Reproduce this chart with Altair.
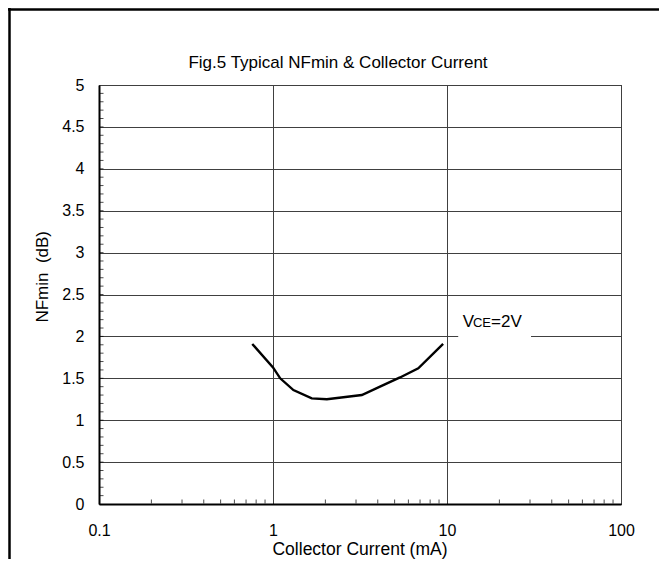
import altair as alt
import pandas as pd

# Curve: collector current (mA) vs NFmin (dB), VCE = 2V
current_ma = [0.76, 1.0, 1.1, 1.31, 1.67, 2.04, 3.24, 4.12, 5.37, 6.84, 9.5]
nfmin_db = [1.91, 1.63, 1.50, 1.36, 1.26, 1.25, 1.30, 1.40, 1.51, 1.62, 1.91]

x_tick_values = [0.1, 1, 10, 100]
y_tick_values = [0, 0.5, 1, 1.5, 2, 2.5, 3, 3.5, 4, 4.5, 5]
x_minor = [0.2, 0.3, 0.4, 0.5, 0.6, 0.7, 0.8, 0.9,
           2, 3, 4, 5, 6, 7, 8, 9,
           20, 30, 40, 50, 60, 70, 80, 90]
y_minor = [0.1, 0.2, 0.3, 0.4, 0.5, 0.6, 0.7, 0.8, 0.9, 1.0,
           1.1, 1.2, 1.3, 1.4, 1.5, 1.6, 1.7, 1.8, 1.9, 2.0,
           2.1, 2.2, 2.3, 2.4, 2.5, 2.6, 2.7, 2.8, 2.9, 3.0,
           3.1, 3.2, 3.3, 3.4, 3.5, 3.6, 3.7, 3.8, 3.9, 4.0,
           4.1, 4.2, 4.3, 4.4, 4.5, 4.6, 4.7, 4.8, 4.9]

# Annotation "VCE=2V"
ann_parts = ["V", "CE", "=2V"]
ann_x = [12.3, 14.1, 17.9]
ann_y = [2.11, 2.11, 2.11]
ann_size = [17, 13, 17]
ann_box_x = [11.6]
ann_box_x2 = [30.4]
ann_box_y = [1.98]
ann_box_y2 = [2.2]

title_text = "Fig.5 Typical NFmin & Collector Current"
x_title = "Collector Current (mA)"
y_title = "NFmin\u00a0 (dB)"

FONT = "Liberation Sans"
W, H = 522, 419

curve_df = pd.DataFrame({"current": current_ma, "nf": nfmin_db})
ann_df = pd.DataFrame({"t": ann_parts, "x": ann_x, "y": ann_y, "s": ann_size})
box_df = pd.DataFrame({"x": ann_box_x, "x2": ann_box_x2, "y": ann_box_y, "y2": ann_box_y2})
xm_df = pd.DataFrame({"x": x_minor})
ym_df = pd.DataFrame({"y": y_minor})

xscale = alt.Scale(type="log", domain=[0.1, 100], nice=False)
yscale = alt.Scale(domain=[0, 5], nice=False, zero=True)

xaxis = alt.Axis(
    values=x_tick_values, format="~g", grid=True, gridColor="#404040", gridWidth=1,
    domainColor="black", domainWidth=2, ticks=True, tickSize=0,
    labelFont=FONT, labelFontSize=16, labelColor="black", labelPadding=18,
    labelBaseline="top", labelFlush=False, labelOverlap=False,
    title=x_title, titleFont=FONT, titleFontSize=17.5, titleFontWeight="normal",
    titleColor="black", titleX=260.5, titleY=50.5, titleAlign="center",
    titleBaseline="alphabetic", titleAngle=0,
)
yaxis = alt.Axis(
    values=y_tick_values, format="~g", grid=True, gridColor="#404040", gridWidth=1,
    domainColor="black", domainWidth=2, ticks=True, tickSize=0,
    labelFont=FONT, labelFontSize=16, labelColor="black", labelPadding=15,
    labelFlush=False, labelOverlap=False,
    title=y_title, titleFont=FONT, titleFontSize=17, titleFontWeight="normal",
    titleColor="black", titleX=-52, titleY=191.3, titleAlign="center",
    titleBaseline="alphabetic", titleAngle=270,
)

line = alt.Chart(curve_df).mark_line(color="black", strokeWidth=2.4).encode(
    x=alt.X("current:Q", scale=xscale, axis=xaxis),
    y=alt.Y("nf:Q", scale=yscale, axis=yaxis),
)

xticks = alt.Chart(xm_df).mark_tick(orient="vertical", color="black", size=4, thickness=1).encode(
    x=alt.X("x:Q", scale=xscale),
    y=alt.value(H - 2.5),
)
yticks = alt.Chart(ym_df).mark_tick(orient="horizontal", color="black", size=4, thickness=1).encode(
    y=alt.Y("y:Q", scale=yscale),
    x=alt.value(2.5),
)

box = alt.Chart(box_df).mark_rect(color="white").encode(
    x=alt.X("x:Q", scale=xscale),
    x2="x2:Q",
    y=alt.Y("y:Q", scale=yscale),
    y2="y2:Q",
)

ann = alt.Chart(ann_df).mark_text(align="left", baseline="alphabetic", font=FONT, color="black").encode(
    x=alt.X("x:Q", scale=xscale),
    y=alt.Y("y:Q", scale=yscale),
    text="t:N",
    size=alt.Size("s:Q", scale=None, legend=None),
)

title = alt.Chart(pd.DataFrame({"t": [title_text]})).mark_text(
    align="center", baseline="alphabetic", font=FONT, fontSize=17, color="black"
).encode(x=alt.value(239), y=alt.value(-16.7), text="t:N")

frame_left = alt.Chart(pd.DataFrame({"a": [0]})).mark_rule(color="black", strokeWidth=2.5).encode(
    x=alt.value(-89.5), y=alt.value(-77), y2=alt.value(H + 60)
)
frame_top = alt.Chart(pd.DataFrame({"a": [0]})).mark_rule(color="black", strokeWidth=2.5).encode(
    x=alt.value(-91), x2=alt.value(W + 40), y=alt.value(-75.5)
)

chart = alt.layer(
    line, box, xticks, yticks, ann, title, frame_left, frame_top
).properties(
    width=W, height=H,
    padding={"left": 91, "top": 77, "right": 38, "bottom": 55},
    autosize=alt.AutoSizeParams(type="none"),
    background="white",
).configure_view(stroke="black", strokeWidth=1)

chart.save("out.html", embed_options={"renderer": "svg", "actions": False})
